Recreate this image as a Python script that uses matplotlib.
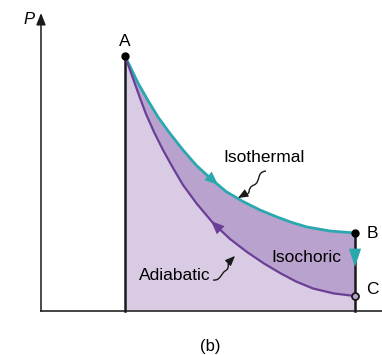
import matplotlib
matplotlib.use("Agg")
import matplotlib.pyplot as plt
from matplotlib.path import Path
from matplotlib.patches import PathPatch

plt.rcParams['font.family'] = ['Liberation Sans', 'DejaVu Sans']

# V, P (arbitrary units, origin at the axes corner)
iso_V = [84, 90, 97, 107, 117, 129, 142, 155, 169, 185, 202, 219, 236, 251, 266, 289, 314]
iso_P = [255, 242.5, 228, 210.5, 194, 177.5, 161, 146, 133, 119.5, 109.5, 101, 94, 88.5, 84, 80, 78]

adi_V = [84, 89, 94, 99, 105, 113, 122, 132, 142, 156, 172, 189, 206, 223, 239, 255, 272, 293, 314]
adi_P = [255, 241, 227, 213, 197, 179, 161, 143, 126, 107, 88, 72, 59, 47.5, 38, 29.5, 22.5, 17.5, 15]

state_names = ['A', 'B', 'C']
state_V = [84, 314, 314]
state_P = [255, 78, 15]

teal = '#2aa8ae'
purple = '#6b3f96'
light_fill = '#d8cbe3'
dark_fill = '#baa2ce'
ink = '#1a1a1a'

fig = plt.figure(figsize=(3.82, 3.55), dpi=100)
ax = fig.add_axes([0, 0, 1, 1])
ax.set_xlim(-41, 341)
ax.set_ylim(-44, 311)
ax.axis('off')

# shaded regions
ax.fill(adi_V + [state_V[1], state_V[0]], adi_P + [0, 0], color=light_fill, lw=0, zorder=1)
ax.fill(iso_V + adi_V[::-1], iso_P + adi_P[::-1], color=dark_fill, lw=0, zorder=1)

# axes
ax.plot([0, 341], [0, 0], color='#444444', lw=1.4, zorder=2)
ax.annotate('', xy=(0, 298), xytext=(0, 0),
            arrowprops=dict(arrowstyle='-|>,head_length=0.5,head_width=0.2', color=ink,
                            lw=1.1, mutation_scale=14, shrinkA=0, shrinkB=0))
ax.text(-12, 292, 'P', fontsize=12, style='italic', ha='center', va='center')

# vertical lines
ax.plot([state_V[0], state_V[0]], [0, state_P[0]], color=ink, lw=1.8, zorder=3)
ax.plot([state_V[1], state_V[1]], [0, state_P[1]], color=ink, lw=1.8, zorder=3)

# curves
ax.plot(iso_V, iso_P, color=teal, lw=2, zorder=4, solid_capstyle='round', solid_joinstyle='round')
ax.plot(adi_V, adi_P, color=purple, lw=1.6, zorder=4, solid_capstyle='round', solid_joinstyle='round')


# direction arrows
def head(p0, p1, c, ms=16, hl=0.6, hw=0.25):
    ax.annotate('', xy=p1, xytext=p0,
                arrowprops=dict(arrowstyle='-|>,head_length=%g,head_width=%g' % (hl, hw),
                                color=c, lw=0.01, mutation_scale=ms,
                                shrinkA=0, shrinkB=0), zorder=5)


head((iso_V[7], iso_P[7]),
     ((iso_V[8] + iso_V[9]) / 2, (iso_P[8] + iso_P[9]) / 2), teal)
head((state_V[1], 66), (state_V[1], 44), teal, ms=22, hl=0.6, hw=0.2)
head((adi_V[11], adi_P[11]), (adi_V[10] - 2, adi_P[10] + 2), purple)

# state points
ax.plot(state_V[:2], state_P[:2], 'o', color='black', ms=5, zorder=6)
ax.plot(state_V[2], state_P[2], 'o', mfc=dark_fill, mec=ink, mew=1.3, ms=5, zorder=6)
ax.text(state_V[0], state_P[0] + 14, state_names[0], fontsize=12.5, ha='center', va='center')
ax.text(state_V[1] + 17, state_P[1], state_names[1], fontsize=12.5, ha='center', va='center')
ax.text(state_V[2] + 17, state_P[2] + 6, state_names[2], fontsize=12.5, ha='center', va='center')

# labels
ax.text(223, 153, 'Isothermal', fontsize=12.5, ha='center', va='center')
ax.text(265, 54, 'Isochoric', fontsize=12.5, ha='center', va='center')
ax.text(134, 35, 'Adiabatic', fontsize=12.5, ha='center', va='center')


# squiggly leaders
def squiggle(pts, tip):
    codes = [Path.MOVETO] + [Path.CURVE4] * (len(pts) - 1)
    ax.add_patch(PathPatch(Path(pts, codes), fc='none', ec=ink, lw=1, zorder=6))
    ax.annotate('', xy=tip, xytext=pts[-1],
                arrowprops=dict(arrowstyle='-|>,head_length=0.6,head_width=0.25', color=ink,
                                lw=0.8, mutation_scale=10, shrinkA=0, shrinkB=0), zorder=6)


squiggle([(225, 140), (215, 139), (220, 129), (213, 126),
          (205, 123), (211, 116), (204, 117)], (197, 113))
squiggle([(172, 31), (179, 30), (180, 37), (184, 40),
          (190, 43), (185, 48), (189, 50)], (194, 55))

ax.text(169, -36, '(b)', fontsize=12, ha='center', va='center')

fig.savefig('out.png', dpi=100)
